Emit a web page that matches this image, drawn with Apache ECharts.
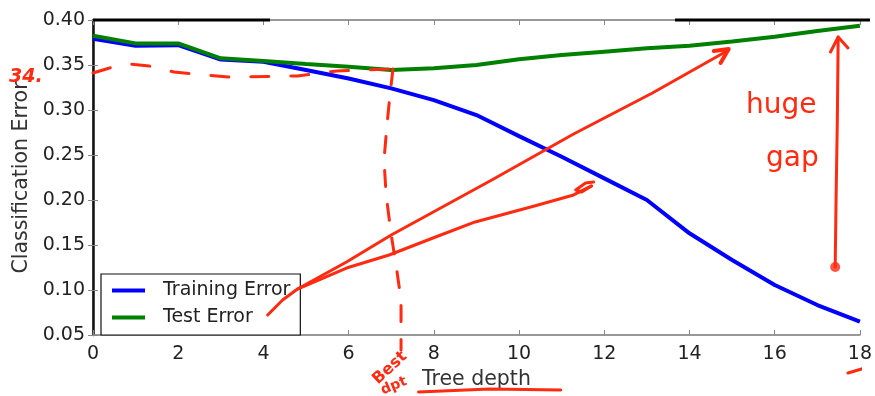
<!DOCTYPE html>
<html>
<head>
<meta charset="utf-8">
<script src="https://cdn.jsdelivr.net/npm/echarts@6/dist/echarts.min.js"></script>
<style>
  html, body { margin: 0; padding: 0; background: #fff; }
  #chart { width: 875px; height: 396px; }
</style>
</head>
<body>
<div id="chart"></div>
<script>
// Tree depth on the x axis
const depth = [0, 1, 2, 3, 4, 5, 6, 7, 8, 9, 10, 11, 12, 13, 14, 15, 16, 17, 18];
const xTicks = [0, 2, 4, 6, 8, 10, 12, 14, 16, 18];
const yTicks = [0.05, 0.10, 0.15, 0.20, 0.25, 0.30, 0.35, 0.40];

// Classification error per depth
const trainingError = [0.379, 0.3714, 0.372, 0.356, 0.3537, 0.3444, 0.335, 0.324, 0.311, 0.2944,
  0.271, 0.248, 0.224, 0.200, 0.163, 0.1333, 0.1056, 0.0833, 0.0648];
const testError = [0.3826, 0.374, 0.374, 0.3574, 0.3544, 0.351, 0.348, 0.3444, 0.3463, 0.350,
  0.3563, 0.361, 0.3648, 0.3685, 0.3714, 0.376, 0.3815, 0.3878, 0.3937];

// Hand-drawn ink strokes, in (depth, error) units
const inkLevelDash = [[0, 0.3411], [0.39, 0.3467], [0.86, 0.3511], [1.32, 0.3489], [1.9, 0.3422],
  [3.17, 0.3367], [4.8, 0.3378], [5.72, 0.3433], [7.04, 0.3456]];
const inkDropDash = [[7.04, 0.3456], [6.97, 0.3167], [6.90, 0.2833], [6.83, 0.2444], [6.88, 0.2056],
  [7.00, 0.1611], [7.13, 0.1222], [7.23, 0.0889], [7.23, 0.0333]];
const inkUpperArrow = [[4.10, 0.0722], [4.45, 0.0889], [4.80, 0.1011], [5.95, 0.1311], [7.00, 0.1611],
  [9.36, 0.2222], [11.28, 0.2733], [13.13, 0.3189], [14.92, 0.3667]];
const inkUpperHead = [[14.57, 0.3656], [14.92, 0.3678], [14.73, 0.3522]];
const inkLowerArrow = [[4.80, 0.1011], [5.95, 0.1244], [6.95, 0.1389], [8.04, 0.1589], [8.97, 0.1756],
  [10.36, 0.1933], [11.28, 0.2056], [11.70, 0.2156]];
const inkLowerHead = [[11.70, 0.2156], [11.47, 0.2089], [11.33, 0.2111], [11.56, 0.2189], [11.75, 0.2200]];
const inkGapArrow = [[17.42, 0.1256], [17.44, 0.200], [17.47, 0.2889], [17.49, 0.3811]];
const inkGapHead = [[17.31, 0.3644], [17.49, 0.3811], [17.72, 0.3689]];
const inkGapDot = [[17.42, 0.1256]];
const inkUnderline = [[7.64, -0.0133], [9.31, -0.0100], [10.98, -0.0111]];
const inkCornerMark = [[17.72, 0.0078], [18.12, 0.0133]];

const INK = '#ff2a10';
const FONT = 'DejaVu Sans';

function inkLine(data, width, dash) {
  return {
    type: 'line', data: data, silent: true, clip: false, symbol: 'none', z: 5,
    lineStyle: { color: INK, width: width, type: dash ? dash : 'solid', cap: 'round', join: 'round' }
  };
}

const chart = echarts.init(document.getElementById('chart'), null, { renderer: 'canvas' });

const axisLabelStyle = { fontFamily: FONT, fontSize: 19, color: '#222' };
const nameStyle = { fontFamily: FONT, fontSize: 20.5, color: '#333' };

chart.setOption({
  animation: false,
  backgroundColor: '#fff',
  grid: { left: 93, right: 5, top: 20, bottom: 61, containLabel: false },
  legend: {
    data: ['Training Error', 'Test Error'],
    left: 101, top: 274,
    orient: 'vertical',
    icon: 'rect', itemWidth: 33, itemHeight: 4, itemGap: 8,
    padding: [7, 10, 8, 11],
    borderColor: '#111', borderWidth: 1.2, borderRadius: 0,
    backgroundColor: '#fff',
    textStyle: { fontFamily: FONT, fontSize: 19, color: '#222', lineHeight: 19, padding: [0, 0, 0, 13] }
  },
  xAxis: [{
    type: 'value', min: 0, max: 18, interval: 2,
    name: 'Tree depth', nameLocation: 'middle', nameGap: 32,
    nameTextStyle: nameStyle,
    axisLine: { lineStyle: { color: '#777', width: 1.5 } },
    axisTick: { inside: true, length: 5, lineStyle: { color: '#888' } },
    axisLabel: Object.assign({ margin: 10, formatter: v => xTicks.includes(v) ? String(v) : '' }, axisLabelStyle),
    splitLine: { show: false }
  }, {
    type: 'value', min: 0, max: 18, interval: 2, position: 'top',
    axisLine: { lineStyle: { color: '#777', width: 1.5 } },
    axisTick: { inside: true, length: 5, lineStyle: { color: '#888' } },
    axisLabel: { show: false }, splitLine: { show: false }
  }],
  yAxis: [{
    type: 'value', min: 0.05, max: 0.40, interval: 0.05,
    name: 'Classification Error', nameLocation: 'middle', nameGap: 59,
    nameTextStyle: nameStyle,
    axisLine: { show: true, lineStyle: { color: '#888', width: 1.5 } },
    axisTick: { show: true, inside: true, length: 5, lineStyle: { color: '#888' } },
    axisLabel: Object.assign({ margin: 8, formatter: v => {
      const t = yTicks.find(k => Math.abs(k - v) < 1e-6);
      return t === undefined ? '' : t.toFixed(2);
    } }, axisLabelStyle),
    splitLine: { show: false }
  }, {
    type: 'value', min: 0.05, max: 0.40, interval: 0.05, position: 'right',
    axisLine: { show: true, lineStyle: { color: '#111', width: 2.5 } },
    axisTick: { show: true, inside: true, length: 5, lineStyle: { color: '#888' } },
    axisLabel: { show: false }, splitLine: { show: false }
  }],
  series: [
    {
      name: 'Training Error', type: 'line', symbol: 'none', z: 3,
      data: depth.map((d, i) => [d, trainingError[i]]),
      itemStyle: { color: '#0000ff' },
      lineStyle: { color: '#0000ff', width: 4 }
    },
    {
      name: 'Test Error', type: 'line', symbol: 'none', z: 4,
      data: depth.map((d, i) => [d, testError[i]]),
      itemStyle: { color: '#008000' },
      lineStyle: { color: '#008000', width: 4 }
    },
    inkLine(inkLevelDash, 3, [18, 22]),
    inkLine(inkDropDash, 3, [16, 18]),
    inkLine(inkUpperArrow, 3),
    inkLine(inkUpperHead, 4),
    inkLine(inkLowerArrow, 3),
    inkLine(inkLowerHead, 3),
    inkLine(inkGapArrow, 3),
    inkLine(inkGapHead, 3),
    inkLine(inkUnderline, 3),
    inkLine(inkCornerMark, 3),
    {
      type: 'scatter', data: inkGapDot, silent: true, clip: false, z: 5,
      symbol: 'circle', symbolSize: 10, itemStyle: { color: INK }
    }
  ],
  graphic: [
    // heavier black stretches of the frame
    { type: 'line', shape: { x1: 93, y1: 20, x2: 270, y2: 20 }, style: { stroke: '#000', lineWidth: 3 }, z: 10 },
    { type: 'line', shape: { x1: 675, y1: 20, x2: 870, y2: 20 }, style: { stroke: '#000', lineWidth: 3 }, z: 10 },
    // handwritten notes
    { type: 'text', left: 9, top: 68, z: 10,
      style: { text: '34.', fill: INK, font: 'italic bold 19px "DejaVu Sans"' } },
    { type: 'text', left: 746, top: 92, z: 10,
      style: { text: 'huge', fill: INK, font: '28px "DejaVu Sans"' } },
    { type: 'text', left: 766, top: 145, z: 10,
      style: { text: 'gap', fill: INK, font: '28px "DejaVu Sans"' } },
    { type: 'text', x: 390, y: 368, rotation: 0.75, z: 10,
      style: { text: 'Best', fill: INK, font: 'bold 16px "DejaVu Sans"', align: 'center', verticalAlign: 'middle' } },
    { type: 'text', x: 394, y: 386, rotation: 0.4, z: 10,
      style: { text: 'dpt', fill: INK, font: 'bold 14px "DejaVu Sans"', align: 'center', verticalAlign: 'middle' } }
  ]
});
</script>
</body>
</html>
